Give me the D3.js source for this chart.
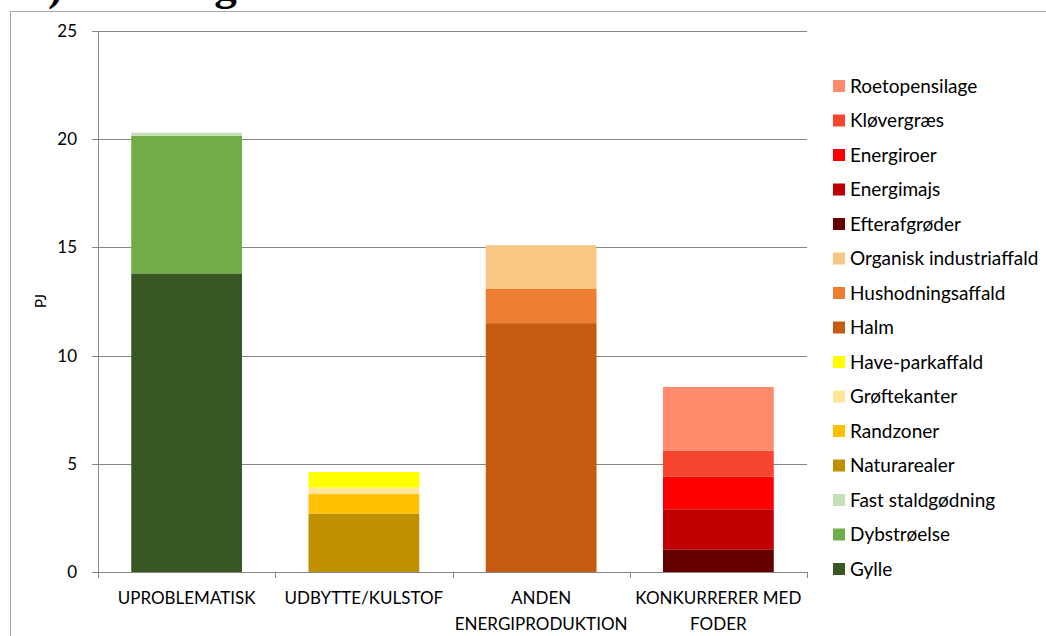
<!DOCTYPE html>
<html>
<head>
<meta charset="utf-8">
<script src="https://cdn.jsdelivr.net/npm/d3@7"></script>
<style>
  html, body { margin: 0; padding: 0; background: #fff; }
  svg { display: block; }
  text { font-family: Lato, "Open Sans", sans-serif; fill: #000; }
</style>
</head>
<body>
<svg id="chart" width="1046" height="636"></svg>
<script>
// Categories along the x axis (multi-line labels)
const categories = ["UPROBLEMATISK", "UDBYTTE/KULSTOF", "ANDEN ENERGIPRODUKTION", "KONKURRERER MED FODER"];
const categoryLines = [["UPROBLEMATISK"], ["UDBYTTE/KULSTOF"], ["ANDEN", "ENERGIPRODUKTION"], ["KONKURRERER MED", "FODER"]];

// Stack order from bottom to top
const seriesNames = [
  "Gylle", "Dybstrøelse", "Fast staldgødning",
  "Naturarealer", "Randzoner", "Grøftekanter", "Have-parkaffald",
  "Halm", "Hushodningsaffald", "Organisk industriaffald",
  "Efterafgrøder", "Energimajs", "Energiroer", "Kløvergræs", "Roetopensilage"
];
const seriesColors = [
  "#385723", "#70AD47", "#C5E0B4",
  "#BF9000", "#FFC000", "#FFE699", "#FFFF00",
  "#C55A11", "#ED7D31", "#F7C783",
  "#660000", "#C00000", "#FF0000", "#F8452F", "#FF8A6C"
];

// PJ per series, one value per category
const gylle            = [13.8, 0, 0, 0];
const dybstroelse      = [6.35, 0, 0, 0];
const fastStaldgodning = [0.15, 0, 0, 0];
const naturarealer     = [0, 2.7, 0, 0];
const randzoner        = [0, 0.9, 0, 0];
const groftekanter     = [0, 0.3, 0, 0];
const haveParkaffald   = [0, 0.72, 0, 0];
const halm             = [0, 0, 11.5, 0];
const hushodning       = [0, 0, 1.6, 0];
const organiskIndustri = [0, 0, 2.0, 0];
const efterafgroder    = [0, 0, 0, 1.05];
const energimajs       = [0, 0, 0, 1.85];
const energiroer       = [0, 0, 0, 1.5];
const klovergraes      = [0, 0, 0, 1.2];
const roetopensilage   = [0, 0, 0, 2.95];

const seriesValues = [
  gylle, dybstroelse, fastStaldgodning,
  naturarealer, randzoner, groftekanter, haveParkaffald,
  halm, hushodning, organiskIndustri,
  efterafgroder, energimajs, energiroer, klovergraes, roetopensilage
];

const yTicks = [0, 5, 10, 15, 20, 25];

const svg = d3.select("#chart");
const W = 1046, H = 636;

// Title above the chart frame (the frame sits over its lower part)
svg.append("text")
  .attr("x", 28).attr("y", 0)
  .style("font-family", "'Liberation Serif', 'DejaVu Serif', serif")
  .style("font-weight", "bold")
  .style("font-size", "45px")
  .style("letter-spacing", "-2.5px")
  .text("3) Fordeling");

// Chart frame
svg.append("rect")
  .attr("x", 10.5).attr("y", 11.5)
  .attr("width", W).attr("height", H)
  .attr("fill", "#fff")
  .attr("stroke", "#A6A6A6").attr("stroke-width", 1);

const plot = { left: 98, right: 807, top: 31, bottom: 572 };

const x = d3.scaleBand().domain(categories).range([plot.left, plot.right]).paddingInner(0.375).paddingOuter(0.1875);
const y = d3.scaleLinear().domain([0, 25]).range([plot.bottom, plot.top]);

// Gridlines and y ticks
const g = svg.append("g");
g.selectAll("line.grid").data(yTicks).join("line")
  .attr("x1", plot.left - 6).attr("x2", plot.right)
  .attr("y1", d => Math.round(y(d)) + 0.5).attr("y2", d => Math.round(y(d)) + 0.5)
  .attr("stroke", "#868686").attr("stroke-width", 1);

g.selectAll("text.ytick").data(yTicks).join("text")
  .attr("x", 77).attr("y", d => y(d))
  .attr("dy", "0.35em")
  .attr("text-anchor", "end")
  .style("font-size", "17px")
  .text(d => d);

// Stacked data
const table = categories.map((c, i) => {
  const row = { category: c };
  seriesNames.forEach((s, k) => { row[s] = seriesValues[k][i]; });
  return row;
});
const stack = d3.stack().keys(seriesNames)(table);

const bars = svg.append("g");
stack.forEach((layer, k) => {
  bars.selectAll(null).data(layer.filter(d => d[1] - d[0] > 0)).join("rect")
    .attr("x", d => x(d.data.category))
    .attr("width", x.bandwidth())
    .attr("y", d => y(d[1]))
    .attr("height", d => y(d[0]) - y(d[1]))
    .attr("fill", seriesColors[k]);
});

// Axis lines
svg.append("line")
  .attr("x1", plot.left + 0.5).attr("x2", plot.left + 0.5)
  .attr("y1", plot.top).attr("y2", plot.bottom)
  .attr("stroke", "#868686");
svg.append("line")
  .attr("x1", plot.left).attr("x2", plot.right)
  .attr("y1", plot.bottom + 0.5).attr("y2", plot.bottom + 0.5)
  .attr("stroke", "#868686");

// Category tick marks at band edges
const edges = d3.range(categories.length + 1).map(i => plot.left + i * (plot.right - plot.left) / categories.length);
svg.selectAll("line.xtick").data(edges).join("line")
  .attr("x1", d => Math.round(d) + 0.5).attr("x2", d => Math.round(d) + 0.5)
  .attr("y1", plot.bottom).attr("y2", plot.bottom + 6)
  .attr("stroke", "#868686");

// Category labels
categories.forEach((c, i) => {
  const cx = x(c) + x.bandwidth() / 2;
  const t = svg.append("text")
    .attr("x", cx).attr("y", 604)
    .attr("text-anchor", "middle")
    .style("font-size", "17px");
  categoryLines[i].forEach((line, j) => {
    t.append("tspan").attr("x", cx).attr("dy", j === 0 ? 0 : 26).text(line);
  });
});

// Y axis title
svg.append("text")
  .attr("transform", "translate(46,301) rotate(-90)")
  .attr("text-anchor", "middle")
  .style("font-size", "15px")
  .text("PJ");

// Legend, top entry is the top of the stack
const legendItems = seriesNames.map((s, k) => ({ name: s, color: seriesColors[k] })).reverse();
const legend = svg.append("g");
legendItems.forEach((d, i) => {
  const cy = 86 + i * 34.5;
  legend.append("rect")
    .attr("x", 833).attr("y", cy - 6).attr("width", 12).attr("height", 12)
    .attr("fill", d.color);
  legend.append("text")
    .attr("x", 850).attr("y", cy)
    .attr("dy", "0.35em")
    .style("font-size", "19px")
    .text(d.name);
});
</script>
</body>
</html>
